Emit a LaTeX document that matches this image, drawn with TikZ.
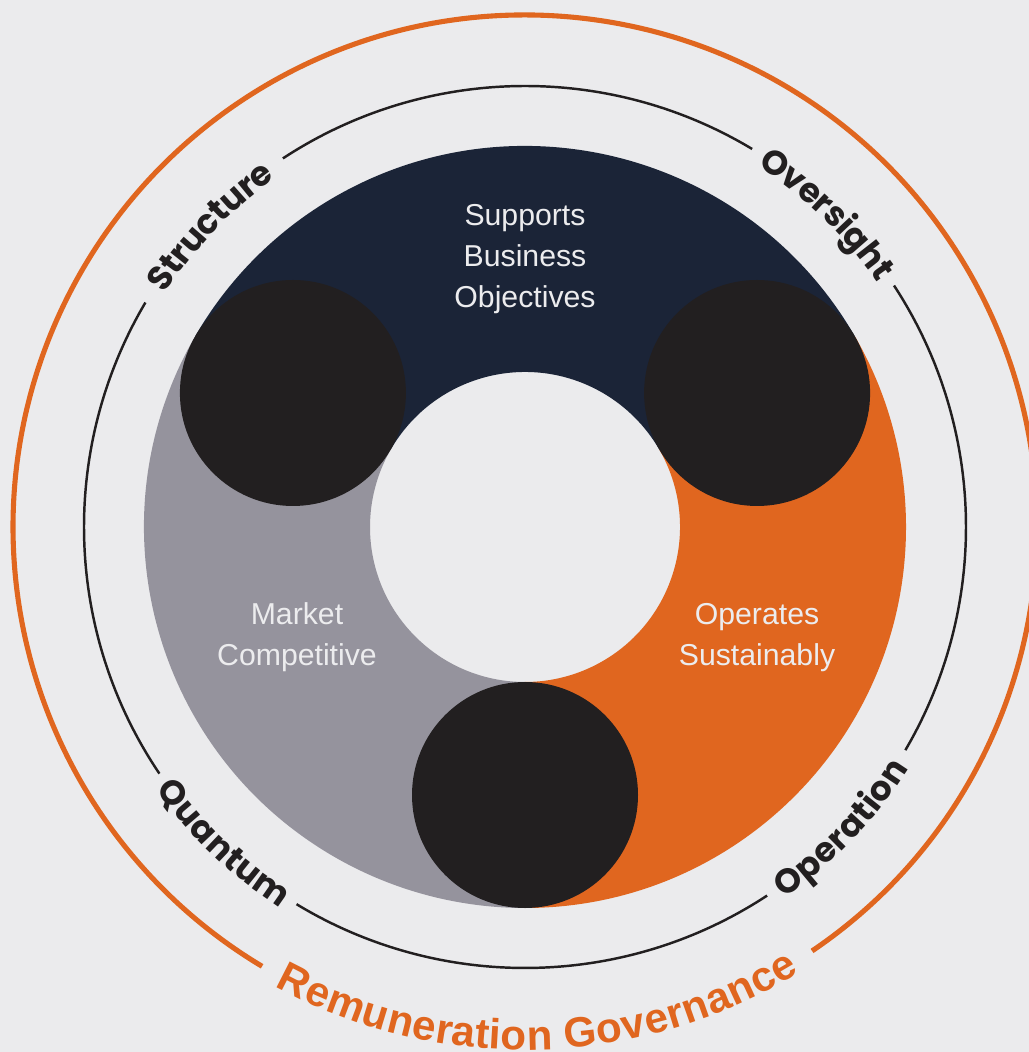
\documentclass[tikz,border=0pt]{standalone}
\usepackage{fontspec}
\usetikzlibrary{decorations.text}
\newfontfamily\labelfont{Poppins}
\newfontfamily\innerfont{Liberation Sans}
\definecolor{bgcol}{HTML}{EBEBED}
\definecolor{navy}{HTML}{1B2437}
\definecolor{slate}{HTML}{95939D}
\definecolor{rust}{HTML}{E0661F}
\definecolor{hub}{HTML}{221F20}
\definecolor{pale}{HTML}{ECECEE}

\begin{document}
\begin{tikzpicture}[
  ring/.style={draw=hub, line width=0.7pt},
  govring/.style={draw=rust, line width=1.45pt},
  segtext/.style={text=pale, align=center, font=\innerfont\fontsize{8.6}{11.6}\selectfont},
  ringlabel/.style={decorate, decoration={text along path, text align=center, raise=-0.12cm,
    text color=hub, text={|\labelfont\bfseries\fontsize{9.7}{12}\selectfont|#1}}},
  govlabel/.style={decorate, decoration={text along path, text align=center, raise=-0.11cm,
    text color=rust, text={|\innerfont\bfseries\fontsize{12}{14}\selectfont|#1}}}
]
% Background
\path[use as bounding box, fill=bgcol] (-5.25,-5.25) rectangle (5.04,5.27);

% Segments
\fill[navy] (30:3.81) arc (30:150:3.81) -- (150:1.55) arc (150:30:1.55) -- cycle;
\fill[slate] (150:3.81) arc (150:270:3.81) -- (270:1.55) arc (270:150:1.55) -- cycle;
\fill[rust] (-90:3.81) arc (-90:30:3.81) -- (30:1.55) arc (30:-90:1.55) -- cycle;

% Joints
\fill[hub] (150:2.68) circle (1.13cm);
\fill[hub] (30:2.68) circle (1.13cm);
\fill[hub] (270:2.68) circle (1.13cm);

% Segment texts
\node[segtext] (supports) at (0,2.68) {Supports\\Business\\Objectives};
\node[segtext] (market) at (-2.28,-1.105) {Market\\Competitive};
\node[segtext] (operates) at (2.32,-1.105) {Operates\\Sustainably};

% Inner ring
\draw[ring] (59:4.41) arc (59:123.3:4.41);
\draw[ring] (149.4:4.41) arc (149.4:214:4.41);
\draw[ring] (238.8:4.41) arc (238.8:303.3:4.41);
\draw[ring] (-30.4:4.41) arc (-30.4:33.2:4.41);

% Ring labels
\path[ringlabel=Structure] (151.3:4.41) arc (151.3:121.3:4.41);
\path[ringlabel=Oversight] (61:4.41) arc (61:31:4.41);
\path[ringlabel=Quantum] (211.4:4.41) arc (211.4:241.4:4.41);
\path[ringlabel=Operation] (301.4:4.41) arc (301.4:331.4:4.41);

% Governance ring
\draw[govring] (304.1:5.12) arc (304.1:599.1:5.12);
\path[govlabel=Remuneration Governance] (231.5:5.12) arc (231.5:311.5:5.12);

\end{tikzpicture}
\end{document}
